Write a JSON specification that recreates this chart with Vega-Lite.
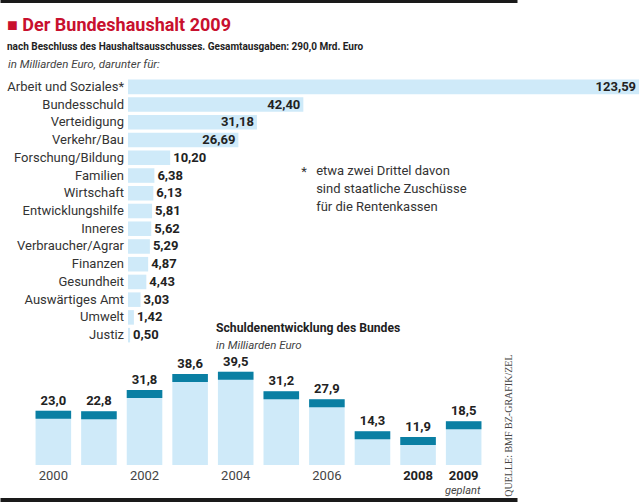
{
  "$schema": "https://vega.github.io/schema/vega-lite/v6.json",
  "padding": 0,
  "background": "white",
  "config": {
    "locale": {"number": {"decimal": ",", "thousands": ".", "grouping": [3], "currency": ["", " €"]}},
    "view": {"stroke": null},
    "font": "Roboto"
  },
  "title": {
    "text": "■ Der Bundeshaushalt 2009",
    "subtitle": "nach Beschluss des Haushaltsausschusses. Gesamtausgaben: 290,0 Mrd. Euro",
    "anchor": "start",
    "frame": "group",
    "dx": 7,
    "offset": -52,
    "font": "Liberation Sans Narrow, Roboto",
    "fontSize": 18,
    "fontWeight": "bold",
    "color": "#c8102e",
    "subtitleFont": "Liberation Sans Narrow, Roboto",
    "subtitleFontSize": 10,
    "subtitleFontWeight": "bold",
    "subtitleColor": "#1e1e1e",
    "subtitlePadding": 7
  },
  "spacing": -22,
  "datasets": {
    "budget": [
      {"bereich": "Arbeit und Soziales*", "wert": 123.59},
      {"bereich": "Bundesschuld", "wert": 42.40},
      {"bereich": "Verteidigung", "wert": 31.18},
      {"bereich": "Verkehr/Bau", "wert": 26.69},
      {"bereich": "Forschung/Bildung", "wert": 10.20},
      {"bereich": "Familien", "wert": 6.38},
      {"bereich": "Wirtschaft", "wert": 6.13},
      {"bereich": "Entwicklungshilfe", "wert": 5.81},
      {"bereich": "Inneres", "wert": 5.62},
      {"bereich": "Verbraucher/Agrar", "wert": 5.29},
      {"bereich": "Finanzen", "wert": 4.87},
      {"bereich": "Gesundheit", "wert": 4.43},
      {"bereich": "Auswärtiges Amt", "wert": 3.03},
      {"bereich": "Umwelt", "wert": 1.42},
      {"bereich": "Justiz", "wert": 0.50}
    ],
    "schulden": [
      {"jahr": "2000", "wert": 23.0},
      {"jahr": "2001", "wert": 22.8},
      {"jahr": "2002", "wert": 31.8},
      {"jahr": "2003", "wert": 38.6},
      {"jahr": "2004", "wert": 39.5},
      {"jahr": "2005", "wert": 31.2},
      {"jahr": "2006", "wert": 27.9},
      {"jahr": "2007", "wert": 14.3},
      {"jahr": "2008", "wert": 11.9},
      {"jahr": "2009", "wert": 18.5, "hinweis": "geplant"}
    ]
  },
  "vconcat": [
    {
      "width": 517,
      "height": 266,
      "data": {"name": "budget"},
      "title": {
        "text": "in Milliarden Euro, darunter für:",
        "anchor": "start",
        "frame": "group",
        "dx": 8,
        "offset": -70,
        "font": "Liberation Sans Narrow, Roboto",
        "fontSize": 11.5,
        "fontStyle": "italic",
        "fontWeight": "normal",
        "color": "#444"
      },
      "layer": [
        {
          "mark": {"type": "bar", "color": "#cfeaf9"},
          "encoding": {
            "x": {
              "field": "wert", "type": "quantitative",
              "scale": {"domain": [-30.96, 94.07], "nice": false, "zero": false},
              "axis": {"orient": "top", "offset": 78, "domainColor": "#1a1a1a", "domainWidth": 5, "labels": false, "ticks": false, "grid": false, "title": null}
            },
            "y": {
              "field": "bereich", "type": "nominal", "sort": null,
              "scale": {"paddingInner": 0.18, "paddingOuter": 0.09},
              "axis": null
            }
          }
        },
        {
          "mark": {"type": "text", "align": "right", "baseline": "middle", "dx": -4, "fontSize": 13, "color": "#333"},
          "encoding": {
            "x": {"datum": 0, "type": "quantitative"},
            "y": {"field": "bereich", "type": "nominal", "sort": null, "axis": null},
            "text": {"field": "bereich"}
          }
        },
        {
          "transform": [{"filter": "datum.wert >= 20"}],
          "mark": {"type": "text", "align": "right", "baseline": "middle", "dx": -3, "fontSize": 13, "fontWeight": "bold", "color": "#222"},
          "encoding": {
            "x": {"field": "wert", "type": "quantitative"},
            "y": {"field": "bereich", "type": "nominal", "sort": null, "axis": null},
            "text": {"field": "wert", "type": "quantitative", "format": ".2f"}
          }
        },
        {
          "transform": [{"filter": "datum.wert < 20"}],
          "mark": {"type": "text", "align": "left", "baseline": "middle", "dx": 3, "fontSize": 13, "fontWeight": "bold", "color": "#222"},
          "encoding": {
            "x": {"field": "wert", "type": "quantitative"},
            "y": {"field": "bereich", "type": "nominal", "sort": null, "axis": null},
            "text": {"field": "wert", "type": "quantitative", "format": ".2f"}
          }
        },
        {
          "transform": [{"filter": "datum.bereich == 'Familien'"}],
          "mark": {"type": "text", "align": "center", "baseline": "top", "dy": -10, "fontSize": 13, "color": "#333", "text": "*"},
          "encoding": {
            "x": {"datum": 42.6, "type": "quantitative"},
            "y": {"field": "bereich", "type": "nominal", "sort": null, "axis": null}
          }
        },
        {
          "transform": [{"filter": "datum.bereich == 'Familien'"}],
          "mark": {"type": "text", "align": "left", "baseline": "top", "dy": -11, "fontSize": 13, "lineHeight": 18, "color": "#333",
            "text": ["etwa zwei Drittel davon", "sind staatliche Zuschüsse", "für die Rentenkassen"]},
          "encoding": {
            "x": {"datum": 45.5, "type": "quantitative"},
            "y": {"field": "bereich", "type": "nominal", "sort": null, "axis": null}
          }
        }
      ]
    },
    {
      "width": 517,
      "height": 101,
      "data": {"name": "schulden"},
      "title": {
        "text": "Schuldenentwicklung des Bundes",
        "subtitle": "in Milliarden Euro",
        "anchor": "start",
        "frame": "group",
        "dx": 216,
        "offset": 3,
        "font": "Liberation Sans Narrow, Roboto",
        "fontSize": 12.2,
        "fontWeight": "bold",
        "color": "#1e1e1e",
        "subtitleFont": "Liberation Sans Narrow, Roboto",
        "subtitleFontSize": 11.5,
        "subtitleFontStyle": "italic",
        "subtitleColor": "#444",
        "subtitlePadding": 5
      },
      "layer": [
        {
          "mark": {"type": "bar", "color": "#cfeaf9"},
          "encoding": {
            "x": {
              "field": "jahr", "type": "ordinal",
              "scale": {"paddingInner": 0.22, "paddingOuter": 0.78},
              "axis": {
                "orient": "bottom", "offset": 35, "domainColor": "#1a1a1a", "domainWidth": 5,
                "ticks": false, "tickSize": 0, "labelPadding": -31, "labelAngle": 0,
                "labelFont": "Roboto", "labelFontSize": 13, "labelBaseline": "top",
                "labelExpr": "(toNumber(datum.value) % 2 == 0 || datum.value == '2009') ? datum.value : ''",
                "labelFontWeight": {"condition": {"test": "toNumber(datum.value) >= 2008", "value": "bold"}, "value": "normal"},
                "labelColor": {"condition": {"test": "toNumber(datum.value) >= 2008", "value": "#222"}, "value": "#444"},
                "title": null, "grid": false
              }
            },
            "y": {
              "field": "wert", "type": "quantitative",
              "scale": {"domain": [0, 42.8], "nice": false},
              "axis": {
                "orient": "right", "labels": false, "ticks": false, "domain": false, "grid": false,
                "title": "QUELLE: BMF       BZ-GRAFIK/ZEL",
                "titleAngle": 270, "titleX": -4, "titleY": -10, "titleAlign": "right", "titleBaseline": "bottom",
                "titleFont": "Liberation Serif", "titleFontSize": 10, "titleFontWeight": "normal", "titleColor": "#444"
              }
            }
          }
        },
        {
          "mark": {"type": "bar", "color": "#0a7fa3", "y2Offset": 8},
          "encoding": {
            "x": {"field": "jahr", "type": "ordinal"},
            "y": {"field": "wert", "type": "quantitative"},
            "y2": {"field": "wert"}
          }
        },
        {
          "mark": {"type": "text", "baseline": "bottom", "dy": -3, "fontSize": 13, "fontWeight": "bold", "color": "#222"},
          "encoding": {
            "x": {"field": "jahr", "type": "ordinal"},
            "y": {"field": "wert", "type": "quantitative"},
            "text": {"field": "wert", "type": "quantitative", "format": ".1f"}
          }
        },
        {
          "transform": [{"filter": "datum.hinweis != null"}],
          "mark": {"type": "text", "baseline": "middle", "dy": 25.5, "dx": -1, "fontSize": 11, "fontStyle": "italic", "color": "#444", "font": "Liberation Sans Narrow, Roboto"},
          "encoding": {
            "x": {"field": "jahr", "type": "ordinal"},
            "y": {"datum": 0, "type": "quantitative"},
            "text": {"field": "hinweis"}
          }
        }
      ]
    }
  ]
}
